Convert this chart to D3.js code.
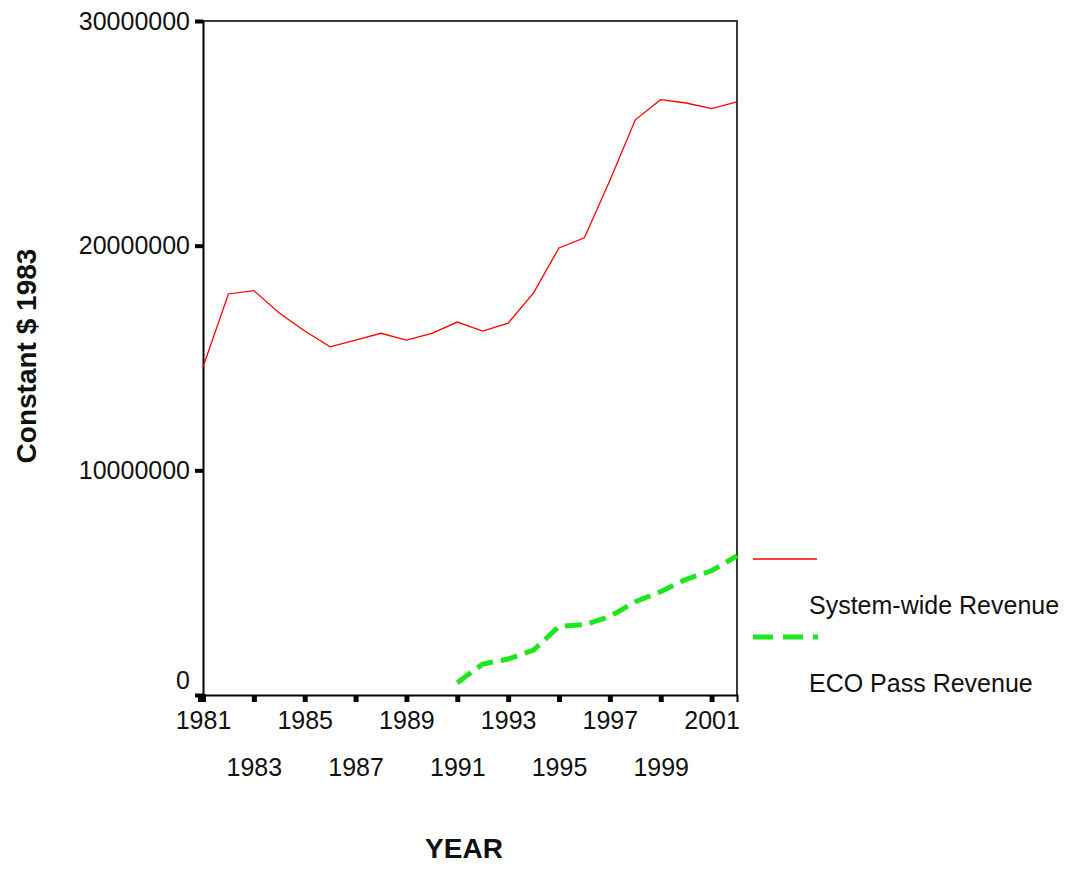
<!DOCTYPE html>
<html>
<head>
<meta charset="utf-8">
<script src="https://cdn.jsdelivr.net/npm/d3@7"></script>
<style>
  body { margin: 0; background: #fff; }
  svg { display: block; }
  text { font-family: "Liberation Sans", Arial, sans-serif; fill: #111; }
</style>
</head>
<body>
<div class="chart"></div>
<script>
  // values
  var years = d3.range(1981, 2003);
  var systemRevenue = [14600000, 17850000, 18000000, 17000000, 16200000, 15500000, 15800000,
    16100000, 15800000, 16100000, 16600000, 16200000, 16550000, 17900000, 19900000,
    20350000, 22900000, 25600000, 26500000, 26350000, 26100000, 26400000];
  var ecoYears = d3.range(1991, 2003);
  var ecoRevenue = [550000, 1380000, 1600000, 2000000, 3050000, 3130000, 3490000,
    4150000, 4600000, 5150000, 5530000, 6190000];
  var xTicks = d3.range(1981, 2002, 2);
  var yTicks = [0, 10000000, 20000000, 30000000];
  var seriesNames = ["System-wide Revenue", "ECO Pass Revenue"];

  var width = 1077, height = 869;
  var svg = d3.select(".chart").append("svg")
    .attr("width", width)
    .attr("height", height);

  var x = d3.scaleLinear().domain([1981, 2002]).range([203, 737]);
  var y = d3.scaleLinear().domain([0, 30000000]).range([695, 21]);

  // frame (top and right)
  svg.append("path")
    .attr("d", "M" + x(1981) + "," + y(30000000) + "H" + x(2002) + "V" + y(0))
    .attr("fill", "none")
    .attr("stroke", "#3a3a3a")
    .attr("stroke-width", 2);

  // y axis
  var yAxis = svg.append("g")
    .attr("transform", "translate(" + x(1981) + ",0)")
    .call(d3.axisLeft(y).tickValues(yTicks).tickSize(8).tickPadding(5)
      .tickFormat(d3.format("d")));
  yAxis.select(".domain").attr("stroke", "#000").attr("stroke-width", 2);
  yAxis.selectAll(".tick line").attr("stroke", "#000").attr("stroke-width", 4);
  yAxis.selectAll(".tick text")
    .style("font-size", "25px")
    .style("font-family", "Liberation Sans, Arial, sans-serif")
    .attr("fill", "#111")
    .attr("dy", function(d) { return d === 0 ? "-0.28em" : "0.32em"; });

  // x axis
  var xAxis = svg.append("g")
    .attr("transform", "translate(0," + y(0) + ")")
    .call(d3.axisBottom(x).tickValues(xTicks).tickSize(7).tickPadding(8)
      .tickFormat(d3.format("d")));
  xAxis.select(".domain").attr("stroke", "#000").attr("stroke-width", 2);
  xAxis.selectAll(".tick line").attr("stroke", "#000").attr("stroke-width", 5);
  xAxis.selectAll(".tick text")
    .style("font-size", "25px")
    .style("font-family", "Liberation Sans, Arial, sans-serif")
    .attr("fill", "#111")
    .attr("y", function(d, i) { return i % 2 === 0 ? 16 : 63; });

  // corner square
  svg.append("rect")
    .attr("x", x(1981) - 5).attr("y", y(0) - 1)
    .attr("width", 8).attr("height", 8)
    .attr("fill", "#000");

  var line = d3.line()
    .x(function(d) { return x(d[0]); })
    .y(function(d) { return y(d[1]); });

  svg.append("path")
    .datum(d3.zip(years, systemRevenue))
    .attr("d", line)
    .attr("fill", "none")
    .attr("stroke", "#f00")
    .attr("stroke-width", 1.3);

  svg.append("path")
    .datum(d3.zip(ecoYears, ecoRevenue))
    .attr("d", line)
    .attr("fill", "none")
    .attr("stroke", "#1ee61e")
    .attr("stroke-width", 5)
    .attr("stroke-dasharray", "17,8");

  // legend
  var legend = svg.append("g");
  legend.append("line")
    .attr("x1", 753).attr("x2", 817).attr("y1", 559).attr("y2", 559)
    .attr("stroke", "#f00").attr("stroke-width", 1.3);
  legend.append("text")
    .attr("x", 809).attr("y", 614)
    .style("font-size", "25px")
    .text(seriesNames[0]);
  legend.append("line")
    .attr("x1", 753).attr("x2", 818).attr("y1", 637).attr("y2", 637)
    .attr("stroke", "#1ee61e").attr("stroke-width", 5)
    .attr("stroke-dasharray", "20,10,20,10,5,10");
  legend.append("text")
    .attr("x", 809).attr("y", 692)
    .style("font-size", "25px")
    .text(seriesNames[1]);

  // axis titles
  svg.append("text")
    .attr("transform", "translate(36,356) rotate(-90)")
    .attr("text-anchor", "middle")
    .style("font-size", "28px")
    .style("font-weight", "bold")
    .text("Constant $ 1983");

  svg.append("text")
    .attr("x", 464).attr("y", 858)
    .attr("text-anchor", "middle")
    .style("font-size", "28px")
    .style("font-weight", "bold")
    .text("YEAR");
</script>
</body>
</html>
